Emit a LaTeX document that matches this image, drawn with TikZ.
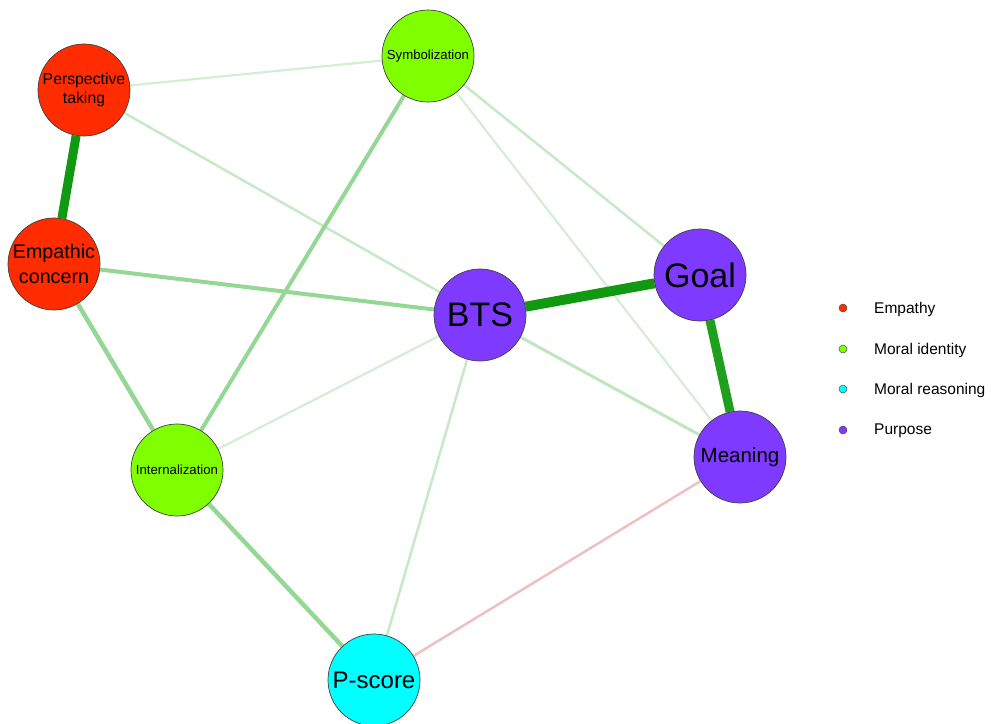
\documentclass[tikz,border=0pt]{standalone}
\usepackage{fontspec}
\setmainfont{Liberation Sans}
\usetikzlibrary{backgrounds}
\definecolor{nred}{HTML}{FF2C00}
\definecolor{ngreen}{HTML}{7FFF00}
\definecolor{ncyan}{HTML}{00FFFF}
\definecolor{npurple}{HTML}{7F3AFF}
\definecolor{estrong}{HTML}{119A11}
\definecolor{emid}{HTML}{95D795}
\definecolor{elight}{HTML}{C6E9C6}
\definecolor{efaint}{HTML}{D3EFD3}
\definecolor{eneg}{HTML}{F0C0C0}
\tikzset{
  vnode/.style={circle, draw=black!75, line width=0.7pt, minimum size=92pt, inner sep=0pt, align=center, text=black},
  edge/.style={line width=#1},
  ldot/.style={circle, draw=black!70, line width=0.5pt, minimum size=8pt, inner sep=0pt},
  ltext/.style={anchor=west, font=\fontsize{15.5}{18}\selectfont, inner sep=0pt}
}
\begin{document}
\begin{tikzpicture}[x=1pt,y=-1pt]
\useasboundingbox (0,0) rectangle (992,723);
\node[vnode, fill=nred, font=\fontsize{15.8}{19}\selectfont] (pt) at (84,90) {\raisebox{-3pt}{\shortstack{Perspective\\[1pt]taking}}};
\node[vnode, fill=nred, font=\fontsize{19.7}{25}\selectfont] (ec) at (54,264) {Empathic\\concern};
\node[vnode, fill=ngreen, font=\fontsize{13.2}{16}\selectfont] (sy) at (428,56) {Symbolization};
\node[vnode, fill=ngreen, font=\fontsize{13.2}{16}\selectfont] (in) at (177,470) {Internalization};
\node[vnode, fill=npurple, font=\fontsize{34}{40}\selectfont] (bts) at (480,315) {BTS};
\node[vnode, fill=npurple, font=\fontsize{34}{40}\selectfont] (go) at (700,275) {Goal};
\node[vnode, fill=npurple, font=\fontsize{20.5}{24}\selectfont] (me) at (740,457) {\raisebox{-3pt}{Meaning}};
\node[vnode, fill=ncyan, font=\fontsize{24}{28}\selectfont] (ps) at (374,680) {P-score};
\begin{scope}[on background layer]
\draw[edge=2.2pt, color=efaint] (pt) -- (sy);
\draw[edge=2.5pt, color=elight] (pt) -- (bts);
\draw[edge=2.5pt, color=elight] (sy) -- (go);
\draw[edge=2.2pt, color=efaint] (sy) -- (me);
\draw[edge=2.2pt, color=efaint] (bts) -- (in);
\draw[edge=3pt, color=elight!85!emid] (bts) -- (me);
\draw[edge=2.5pt, color=elight] (bts) -- (ps);
\draw[edge=2.5pt, color=eneg] (me) -- (ps);
\draw[edge=4pt, color=emid] (sy) -- (in);
\draw[edge=4pt, color=emid] (ec) -- (bts);
\draw[edge=4.5pt, color=emid] (ec) -- (in);
\draw[edge=4.5pt, color=emid] (in) -- (ps);
\draw[edge=9pt, color=estrong] (pt) -- (ec);
\draw[edge=10pt, color=estrong] (bts) -- (go);
\draw[edge=9pt, color=estrong!90!emid] (go) -- (me);
\end{scope}
\node[ldot, fill=nred] (l1) at (843,308) {};
\node[ldot, fill=ngreen] (l2) at (843,349) {};
\node[ldot, fill=ncyan] (l3) at (843,389) {};
\node[ldot, fill=npurple] (l4) at (843,430) {};
\node[ltext] (t1) at (874,309) {Empathy};
\node[ltext] (t2) at (874,350) {Moral identity};
\node[ltext] (t3) at (874,390) {Moral reasoning};
\node[ltext] (t4) at (874,431) {Purpose};
\end{tikzpicture}
\end{document}
